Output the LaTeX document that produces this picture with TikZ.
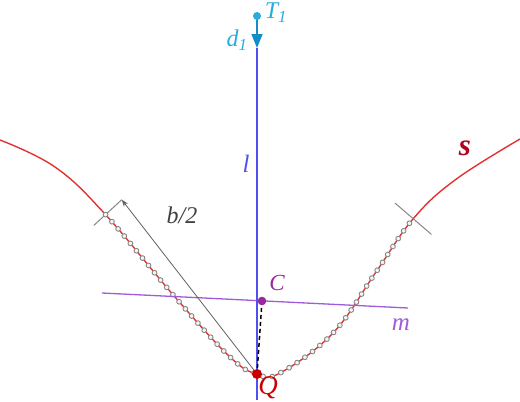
\documentclass[tikz,border=0pt]{standalone}
\usepackage{fontspec}
\setmainfont{Liberation Serif}
\usetikzlibrary{decorations.markings,arrows.meta}
\definecolor{curvered}{RGB}{226,50,50}
\definecolor{chaingray}{RGB}{135,135,135}
\definecolor{tcyan}{RGB}{41,171,226}
\definecolor{darrow}{RGB}{20,140,200}
\definecolor{lblue}{RGB}{80,80,240}
\definecolor{mpurple}{RGB}{160,90,220}
\definecolor{cdot}{RGB}{150,40,160}
\definecolor{qred}{RGB}{200,0,0}
\definecolor{slabel}{RGB}{180,0,30}
\tikzset{
  lbl/.style={inner sep=0pt, font=\itshape},
  tickline/.style={draw=chaingray, line width=1pt},
  bead/.style={draw=chaingray, fill=white!92!gray, line width=0.9pt},
}
\begin{document}
\begin{tikzpicture}[x=1pt,y=-1pt]
\useasboundingbox (0,0) rectangle (520,402);
% curve s with chain
\draw[curvered, line width=1.4pt,
  postaction={decorate, decoration={markings,
    mark=at position 131pt with {\draw[tickline] (0,-16pt) -- (0,22pt); \coordinate (tl) at (0,0); \coordinate (tlu) at (0,22pt);},
    mark=between positions 131pt and -134pt step 9.5pt with {\draw[bead] (0,0) circle (2.4pt);},
    mark=at position -134pt with {\draw[tickline] (0,-24pt) -- (0,24pt); \coordinate (tr) at (0,0);}
  }}]
  plot[smooth, tension=0.65] coordinates {(0,140) (55,167) (105,214) (175,297) (230,357) (257,374) (280,373) (333,333) (376,272) (413,219) (455,180) (520,139)};
% line m
\coordinate (m1) at (102,293);
\coordinate (m2) at (408,308);
\draw[mpurple, line width=1.3pt] (m1) -- (m2);
% line l
\coordinate (T) at (257,16);
\coordinate (Dtip) at (257,48);
\coordinate (lend) at (257,400);
\draw[lblue, line width=1.3pt] (Dtip) -- (lend);
\draw[darrow, line width=1.6pt, -{Triangle[length=14pt,width=11pt]}] (T) -- (Dtip);
\fill[tcyan] (T) circle (4pt);
% points
\coordinate (C) at (262,301);
\coordinate (Q) at (257,374);
\draw[gray!75!black, line width=0.8pt, -{Stealth[length=7pt,width=5pt]}] (Q) -- (tlu);
\draw[black, line width=1.5pt, dash pattern=on 4pt off 3pt] (C) -- (Q);
\fill[cdot] (C) circle (4.3pt);
\fill[qred] (Q) circle (5pt);
% labels
\node[lbl, text=tcyan, font=\itshape\fontsize{24}{24}\selectfont] (Tl) at (276,13) {T\textsubscript{1}};
\node[lbl, text=tcyan, font=\itshape\fontsize{24}{24}\selectfont] (dl) at (237,40) {d\textsubscript{1}};
\node[lbl, text=lblue, font=\itshape\fontsize{25}{25}\selectfont] (ll) at (246,164) {l};
\node[lbl, text=slabel, font=\bfseries\itshape\fontsize{31}{31}\selectfont] (sl) at (465,148) {s};
\node[lbl, text=cdot, font=\itshape\fontsize{23}{23}\selectfont] (Cl) at (277,283) {C};
\node[lbl, text=mpurple, font=\itshape\fontsize{25}{25}\selectfont] (ml) at (401,325) {m};
\node[lbl, text=qred, font=\itshape\fontsize{27}{27}\selectfont] (Ql) at (268,388) {Q};
\node[lbl, text=gray!50!black, font=\itshape\fontsize{24}{24}\selectfont] (bl) at (182,215) {b/2};
\end{tikzpicture}
\end{document}
